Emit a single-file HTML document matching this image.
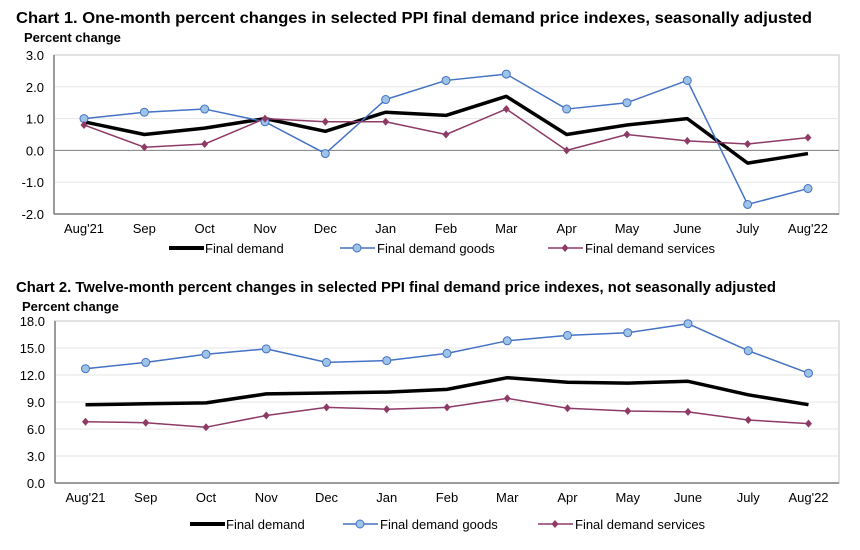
<!DOCTYPE html>
<html><head><meta charset="utf-8"><style>
body{margin:0;background:#fff;font-family:"Liberation Sans",Arial,sans-serif;}
svg text{font-family:"Liberation Sans",Arial,sans-serif;}
</style></head><body>
<svg id="svg" width="860" height="545" xmlns="http://www.w3.org/2000/svg">
<text x="16" y="23" font-size="15.5" font-weight="bold" fill="#000" textLength="796" lengthAdjust="spacingAndGlyphs">Chart 1. One-month percent changes in selected PPI final demand price indexes, seasonally adjusted</text>
<text x="24" y="42" font-size="13" font-weight="bold" fill="#000">Percent change</text>
<text x="16" y="292" font-size="15" font-weight="bold" fill="#000" textLength="760" lengthAdjust="spacingAndGlyphs">Chart 2. Twelve-month percent changes in selected PPI final demand price indexes, not seasonally adjusted</text>
<text x="22" y="311" font-size="13" font-weight="bold" fill="#000">Percent change</text>
<g id="c1"></g><g id="c2"></g>
</svg>
<script>
const months=["Aug'21","Sep","Oct","Nov","Dec","Jan","Feb","Mar","Apr","May","June","July","Aug'22"];
const c1Ticks=[3,2,1,0,-1,-2];
const c1Demand=[0.9,0.5,0.7,1.0,0.6,1.2,1.1,1.7,0.5,0.8,1.0,-0.4,-0.1];
const c1Goods=[1.0,1.2,1.3,0.9,-0.1,1.6,2.2,2.4,1.3,1.5,2.2,-1.7,-1.2];
const c1Services=[0.8,0.1,0.2,1.0,0.9,0.9,0.5,1.3,0.0,0.5,0.3,0.2,0.4];
const c2Ticks=[18,15,12,9,6,3,0];
const c2Demand=[8.7,8.8,8.9,9.9,10.0,10.1,10.4,11.7,11.2,11.1,11.3,9.8,8.7];
const c2Goods=[12.7,13.4,14.3,14.9,13.4,13.6,14.4,15.8,16.4,16.7,17.7,14.7,12.2];
const c2Services=[6.8,6.7,6.2,7.5,8.4,8.2,8.4,9.4,8.3,8.0,7.9,7.0,6.6];
const NS="http://www.w3.org/2000/svg";
function mk(p,t,a){const e=document.createElementNS(NS,t);for(const k in a)e.setAttribute(k,a[k]);p.appendChild(e);return e;}
const BLUE="#4472C4",FILL="#9DC3E6",PURP="#8E3A66";
function chart(g,o){
 const x=i=>o.x0+i*o.step;
 const y=v=>o.top+(o.max-v)/(o.max-o.min)*(o.bot-o.top);
 mk(g,'rect',{x:o.left,y:o.top,width:o.right-o.left,height:o.bot-o.top,fill:'none',stroke:'#d9d9d9','stroke-width':1.5});
 o.ticks.forEach(t=>{
  if(t!==o.min&&t!==o.max){const l=mk(g,'line',{x1:o.left,x2:o.right,y1:y(t),y2:y(t),stroke:t===0?'#7f7f7f':'#e6e6e6','stroke-width':1});
  
  }
  const tx=mk(g,'text',{x:o.left-10,y:y(t)+5,'font-size':13,'text-anchor':'end'});
  tx.textContent=t.toFixed(1);
  
  
 });
 mk(g,'line',{x1:o.left,x2:o.left,y1:o.top,y2:o.bot,stroke:'#808080','stroke-width':1.5});
 mk(g,'line',{x1:o.left,x2:o.right,y1:o.bot,y2:o.bot,stroke:'#808080','stroke-width':1.5});
 months.forEach((m,i)=>{const tx=mk(g,'text',{x:x(i),y:o.bot+19,'font-size':13,'text-anchor':'middle'});tx.textContent=m;
  
  });
 const line=(d,c,w,nm)=>{const p=mk(g,'polyline',{points:d.map((v,i)=>x(i)+','+y(v)).join(' '),fill:'none',stroke:c,'stroke-width':w,'stroke-linejoin':'round'});
  
  };
 line(o.d,'#000',3.5,'final-demand-line');
 line(o.g,BLUE,1.5,'goods-line');
 line(o.s,PURP,1.5,'services-line');
 o.g.forEach((v,i)=>{const c=mk(g,'circle',{cx:x(i),cy:y(v),r:4,fill:FILL,stroke:BLUE,'stroke-width':1});
  
  });
 o.s.forEach((v,i)=>{const d=mk(g,'path',{d:`M${x(i)},${y(v)-4}l3.5,4l-3.5,4l-3.5,-4z`,fill:PURP});
  
  });
 const L=o.leg,ly=o.ly;
 mk(g,'line',{x1:L[0],x2:L[0]+35,y1:ly,y2:ly,stroke:'#000','stroke-width':4});
 let t=mk(g,'text',{x:L[0]+36,y:ly+5,'font-size':13});t.textContent='Final demand';
 
 
 mk(g,'line',{x1:L[1],x2:L[1]+35,y1:ly,y2:ly,stroke:BLUE,'stroke-width':1.5});
 mk(g,'circle',{cx:L[1]+17,cy:ly,r:4,fill:FILL,stroke:BLUE});
 t=mk(g,'text',{x:L[1]+37,y:ly+5,'font-size':13});t.textContent='Final demand goods';
 
 
 mk(g,'line',{x1:L[2],x2:L[2]+35,y1:ly,y2:ly,stroke:PURP,'stroke-width':1.5});
 mk(g,'path',{d:`M${L[2]+17},${ly-4}l3.5,4l-3.5,4l-3.5,-4z`,fill:PURP});
 t=mk(g,'text',{x:L[2]+37,y:ly+5,'font-size':13});t.textContent='Final demand services';
 
 
}
chart(document.getElementById('c1'),{left:54,right:839,top:55,bot:214,max:3,min:-2,x0:84,step:60.33,ticks:c1Ticks,d:c1Demand,g:c1Goods,s:c1Services,leg:[169,340,548],ly:248});
chart(document.getElementById('c2'),{left:55,right:839,top:321,bot:483,max:18,min:0,x0:85.5,step:60.25,ticks:c2Ticks,d:c2Demand,g:c2Goods,s:c2Services,leg:[190,343,538],ly:524});
</script>
</body></html>
